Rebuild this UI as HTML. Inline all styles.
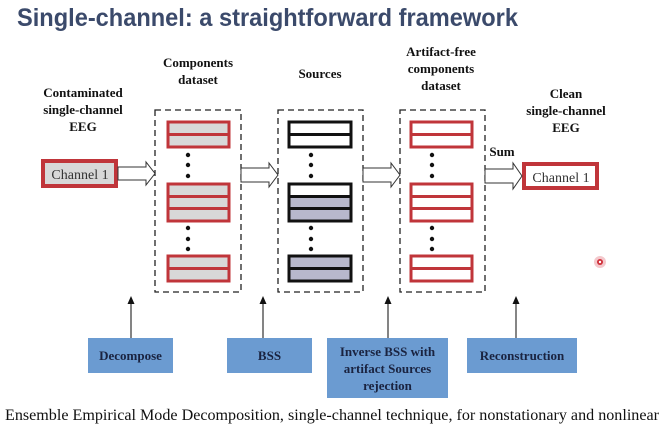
<!DOCTYPE html>
<html><head><style>
body{margin:0;background:#fff;}
svg{display:block;}
.t{font-family:"Liberation Serif",serif;font-weight:bold;font-size:13px;fill:#111;text-anchor:middle;}
.b{font-family:"Liberation Serif",serif;font-weight:bold;font-size:13px;fill:#1a2340;text-anchor:middle;}
</style></head><body>
<svg width="664" height="444" viewBox="0 0 664 444" xmlns="http://www.w3.org/2000/svg">
<text x="17" y="26" font-family="Liberation Sans,sans-serif" font-weight="bold" font-size="25" fill="#3b4a6b" textLength="501" lengthAdjust="spacingAndGlyphs">Single-channel: a straightforward framework</text>

<!-- labels -->
<text class="t" x="83" y="97">Contaminated</text>
<text class="t" x="83" y="114">single-channel</text>
<text class="t" x="83" y="131">EEG</text>
<text class="t" x="198" y="67">Components</text>
<text class="t" x="198" y="84">dataset</text>
<text class="t" x="320" y="78">Sources</text>
<text class="t" x="441" y="56">Artifact-free</text>
<text class="t" x="441" y="73">components</text>
<text class="t" x="441" y="90">dataset</text>
<text class="t" x="566" y="98">Clean</text>
<text class="t" x="566" y="115">single-channel</text>
<text class="t" x="566" y="132">EEG</text>
<text class="t" x="502" y="156">Sum</text>

<!-- dashed boxes -->
<g fill="none" stroke="#222" stroke-width="1.3" stroke-dasharray="6,4">
<rect x="155" y="110" width="86" height="182"/>
<rect x="278" y="110" width="85" height="182"/>
<rect x="400" y="110" width="85" height="182"/>
</g>

<!-- channel boxes -->
<rect x="43" y="161" width="73" height="25" fill="#d8d8d8" stroke="#c0353a" stroke-width="4"/>
<text x="80" y="179" font-family="Liberation Serif,serif" font-size="14" fill="#333" text-anchor="middle">Channel 1</text>
<rect x="524" y="164" width="73" height="24" fill="#fff" stroke="#c0353a" stroke-width="4"/>
<text x="561" y="182" font-family="Liberation Serif,serif" font-size="14" fill="#333" text-anchor="middle">Channel 1</text>

<!-- block arrows -->
<g fill="#fff" stroke="#333" stroke-width="1">
<polygon points="118,167 146,167 146,162 155,173.5 146,185 146,180 118,180"/>
<polygon points="241,168 269,168 269,163 278,175 269,187 269,182 241,182"/>
<polygon points="363,168 391,168 391,163 400,175 391,187 391,182 363,182"/>
<polygon points="485,169 513,169 513,163 522,176 513,189 513,183 485,183"/>
</g>

<!-- components bars (red, gray fill) -->
<g stroke="#c0353a" stroke-width="3" fill="#d8d8d8">
<rect x="168" y="122" width="61" height="25"/><line x1="168" y1="134.5" x2="229" y2="134.5"/>
<rect x="168" y="184" width="61" height="37"/><line x1="168" y1="196.5" x2="229" y2="196.5"/><line x1="168" y1="208.5" x2="229" y2="208.5"/>
<rect x="168" y="256" width="61" height="25"/><line x1="168" y1="268.5" x2="229" y2="268.5"/>
</g>
<!-- sources -->
<g stroke="#111" stroke-width="3">
<rect x="289" y="122" width="62" height="25" fill="#fff"/><line x1="289" y1="134.5" x2="351" y2="134.5"/>
<rect x="289" y="184" width="62" height="37" fill="#b8b8cc"/><rect x="289" y="184" width="62" height="12.5" fill="#fff"/><line x1="289" y1="208.5" x2="351" y2="208.5"/>
<rect x="289" y="256" width="62" height="25" fill="#b8b8cc"/><line x1="289" y1="268.5" x2="351" y2="268.5"/>
</g>
<!-- artifact-free -->
<g stroke="#c0353a" stroke-width="3" fill="#fff">
<rect x="411" y="122" width="61" height="25"/><line x1="411" y1="134.5" x2="472" y2="134.5"/>
<rect x="411" y="184" width="61" height="37"/><line x1="411" y1="196.5" x2="472" y2="196.5"/><line x1="411" y1="208.5" x2="472" y2="208.5"/>
<rect x="411" y="256" width="61" height="25"/><line x1="411" y1="268.5" x2="472" y2="268.5"/>
</g>
<!-- dots -->
<g fill="#111">
<circle cx="188" cy="155" r="2.2"/><circle cx="188" cy="165" r="2.2"/><circle cx="188" cy="176" r="2.2"/>
<circle cx="188" cy="228" r="2.2"/><circle cx="188" cy="239" r="2.2"/><circle cx="188" cy="249" r="2.2"/>
<circle cx="311" cy="155" r="2.2"/><circle cx="311" cy="165" r="2.2"/><circle cx="311" cy="176" r="2.2"/>
<circle cx="311" cy="228" r="2.2"/><circle cx="311" cy="239" r="2.2"/><circle cx="311" cy="249" r="2.2"/>
<circle cx="432" cy="155" r="2.2"/><circle cx="432" cy="165" r="2.2"/><circle cx="432" cy="176" r="2.2"/>
<circle cx="432" cy="228" r="2.2"/><circle cx="432" cy="239" r="2.2"/><circle cx="432" cy="249" r="2.2"/>
</g>

<!-- up arrows -->
<g stroke="#333" stroke-width="1.2">
<line x1="131" y1="338" x2="131" y2="303"/><line x1="263" y1="338" x2="263" y2="303"/>
<line x1="388" y1="338" x2="388" y2="303"/><line x1="516" y1="338" x2="516" y2="303"/>
</g>
<g fill="#111">
<polygon points="131,296 127.5,304 134.5,304"/><polygon points="263,296 259.5,304 266.5,304"/>
<polygon points="388,296 384.5,304 391.5,304"/><polygon points="516,296 512.5,304 519.5,304"/>
</g>

<!-- bottom boxes -->
<g fill="#6b9bd1">
<rect x="88" y="338" width="85" height="35"/>
<rect x="227" y="338" width="85" height="35"/>
<rect x="327" y="338" width="121" height="60"/>
<rect x="467" y="338" width="110" height="35"/>
</g>
<text class="b" x="130.5" y="360">Decompose</text>
<text class="b" x="269.5" y="360">BSS</text>
<text class="b" x="387.5" y="356">Inverse BSS with</text>
<text class="b" x="387.5" y="373">artifact Sources</text>
<text class="b" x="387.5" y="390">rejection</text>
<text class="b" x="522" y="360">Reconstruction</text>

<!-- red pointer -->
<circle cx="600" cy="262" r="6" fill="#f4c8cc"/>
<circle cx="600" cy="262" r="3" fill="#d0303a"/>
<circle cx="600" cy="262" r="1.2" fill="#fff"/>

<text x="5" y="420" font-family="Liberation Serif,serif" font-size="15.3" fill="#111" textLength="654" lengthAdjust="spacingAndGlyphs">Ensemble Empirical Mode Decomposition, single-channel technique, for nonstationary and nonlinear</text>
</svg>
</body></html>
